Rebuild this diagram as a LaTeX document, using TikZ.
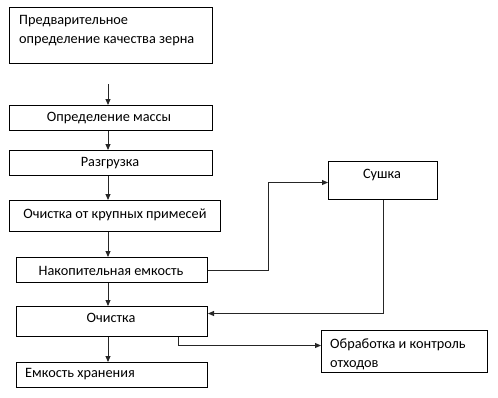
\documentclass[tikz,border=0pt]{standalone}
\usepackage{fontspec}
\setmainfont{Carlito}
\usetikzlibrary{arrows.meta,calc}
\begin{document}
\begin{tikzpicture}[x=1pt,y=-1pt,
  box/.style={draw=black,line width=1pt,rectangle,inner sep=0pt,anchor=north west},
  txt/.style={inner sep=0pt,font=\fontsize{14.3}{19}\selectfont,align=left},
  arr/.style={draw=black!85,line width=0.9pt,-{Triangle[length=6pt,width=5pt]}},
  ln/.style={draw=black!85,line width=0.9pt}]
\useasboundingbox (0,0) rectangle (498,397);
% boxes
\node[box,minimum width=203,minimum height=56] (b1) at (9,7) {};
\node[box,minimum width=203,minimum height=25] (b2) at (9,105) {};
\node[box,minimum width=203,minimum height=25] (b3) at (9,150) {};
\node[box,minimum width=211,minimum height=31] (b4) at (9,200) {};
\node[box,minimum width=191,minimum height=25] (b5) at (16,257) {};
\node[box,minimum width=191,minimum height=30] (b6) at (16,306) {};
\node[box,minimum width=191,minimum height=25] (b7) at (16,362) {};
\node[box,minimum width=109,minimum height=38] (dry) at (328,161) {};
\node[box,minimum width=166,minimum height=42] (proc) at (321,330) {};
% texts
\node[txt,anchor=west] (t1) at (19,31) {Предварительное\\определение качества зерна};
\node[txt] (t2) at (109,118) {Определение массы};
\node[txt] (t3) at (110,163) {Разгрузка};
\node[txt] (t4) at (115,215) {Очистка от крупных примесей};
\node[txt] (t5) at (111,271) {Накопительная емкость};
\node[txt] (t6) at (111,318) {Очистка};
\node[txt,anchor=west] (t7) at (25,374) {Емкость хранения};
\node[txt] (t8) at (382,175) {Сушка};
\node[txt,anchor=west] (t9) at (330,354) {Обработка и контроль\\отходов};
% connectors
\coordinate (s) at (108,84);
\draw[arr] (s) -- (s |- b2.north);
\draw[arr] (b2.south -| s) -- (b3.north -| s);
\draw[arr] (b3.south -| s) -- (b4.north -| s);
\draw[arr] (b4.south -| s) -- (b5.north -| s);
\draw[arr] (b5.south -| s) -- (b6.north -| s);
\draw[arr] (b6.south -| s) -- (b7.north -| s);
\draw[arr] (b5.east) -- ++(60,0) |- ($(dry.west)+(0,2)$);
\draw[arr] (dry.south) |- ($(b6.east)+(0,-8)$);
\draw[arr] ($(b6.south east)+(-30,0)$) |- ($(proc.west)+(0,-6)$);
\end{tikzpicture}
\end{document}
